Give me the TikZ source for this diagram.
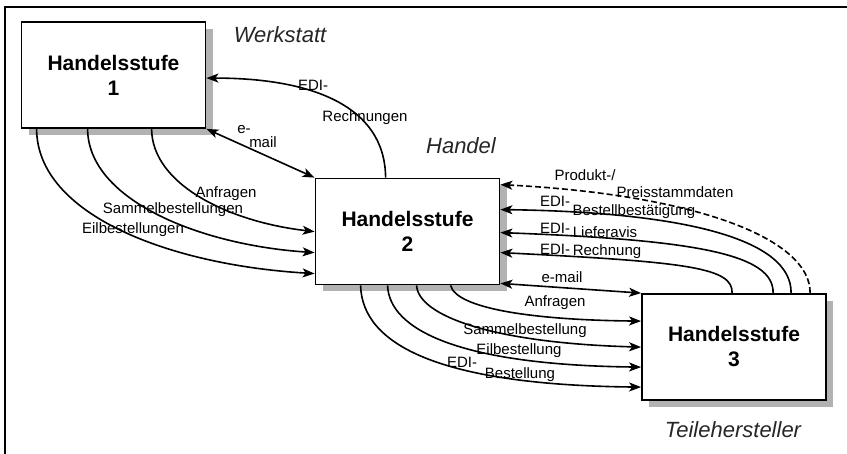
\documentclass[tikz,border=0pt]{standalone}
\usepackage{fontspec}
\setmainfont{Liberation Sans}
\usetikzlibrary{arrows.meta,shadows}
\begin{document}
\begin{tikzpicture}[x=1pt,y=-1pt,
  >={Stealth[length=12pt,width=9pt,inset=3pt]},
  box/.style={draw, line width=1.8pt, fill=white, align=center, inner sep=0pt,
    minimum width=184pt, minimum height=106pt,
    font=\fontsize{21}{25}\selectfont\bfseries,
    drop shadow={shadow xshift=7pt, shadow yshift=-7pt, fill=black!30, opacity=1}},
  conn/.style={line width=1.6pt, ->},
  lab/.style={inner sep=0pt, font=\fontsize{15}{16}\selectfont},
  place/.style={inner sep=0pt, font=\fontsize{22}{24}\selectfont\itshape, text=black!85}]
\useasboundingbox (0,0) rectangle (847,454);
\draw[line width=1.8pt] (5,454) -- (5,7) -- (847,7);

\node[box] (b1) at (113.5,75) {Handelsstufe\\1};
\node[box] (b2) at (407.5,231.5) {Handelsstufe\\2};
\node[box] (b3) at (734,347) {Handelsstufe\\3};

\node[place] (w) at (280,35) {Werkstatt};
\node[place] (h) at (461,146) {Handel};
\node[place] (t) at (733,430) {Teilehersteller};

% Box 1 <-> Box 2
\draw[conn] ([xshift=71pt]b2.north west) .. controls (385,105) and (310,78) .. ([yshift=-57pt]b1.north east);
\draw[conn,<->] (b1.south east) -- (b2.north west);
\draw[conn] ([xshift=131pt]b1.south west) .. controls (152,185) and (230,222) .. ([yshift=-54pt]b2.north west);
\draw[conn] ([xshift=67pt]b1.south west) .. controls (88,200) and (200,245) .. ([yshift=-75pt]b2.north west);
\draw[conn] ([xshift=16pt]b1.south west) .. controls (37,215) and (170,265) .. ([yshift=-96pt]b2.north west);

\node[lab] (l1) at (313,85) {EDI-};
\node[lab] (l2) at (365,118) {Rechnungen};
\node[lab] (l3) at (244,130) {e-};
\node[lab] (l4) at (263,142) {mail};
\node[lab] (l5) at (226,194) {Anfragen};
\node[lab] (l6) at (173,210) {Sammelbestellungen};
\node[lab] (l7) at (133,230) {Eilbestellungen};

% Box 3 -> Box 2
\draw[conn,dashed,dash pattern=on 6pt off 3pt] ([xshift=169pt]b3.north west) .. controls (811,240) and (700,195) .. ([yshift=-7pt]b2.north east);
\draw[conn] ([xshift=150pt]b3.north west) .. controls (792,238) and (680,212) .. ([yshift=-32pt]b2.north east);
\draw[conn] ([xshift=132pt]b3.north west) .. controls (774,255) and (700,240) .. ([yshift=-55pt]b2.north east);
\draw[conn] ([xshift=91pt]b3.north west) .. controls (733,268) and (690,262) .. ([yshift=-75pt]b2.north east);
\draw[conn,<->] ([yshift=2pt]b2.south east) -- (b3.north west);

\node[lab] (l8) at (585,175) {Produkt-/};
\node[lab] (l9) at (675,192) {Preisstammdaten};
\node[lab] (l10) at (555,201) {EDI-};
\node[lab] (l11) at (634,212) {Bestellbestätigung};
\node[lab] (l12) at (555,228) {EDI-};
\node[lab] (l13) at (605,232) {Lieferavis};
\node[lab] (l14) at (555,249) {EDI-};
\node[lab] (l15) at (607,252) {Rechnung};
\node[lab] (l16) at (562,277) {e-mail};

% Box 2 -> Box 3
\draw[conn] ([xshift=136pt]b2.south west) .. controls (456,308) and (530,320) .. ([yshift=-28pt]b3.north west);
\draw[conn] ([xshift=102pt]b2.south west) .. controls (418,315) and (490,343) .. ([yshift=-54pt]b3.north west);
\draw[conn] ([xshift=73pt]b2.south west) .. controls (389,330) and (460,365) .. ([yshift=-74pt]b3.north west);
\draw[conn] ([xshift=46pt]b2.south west) .. controls (362,345) and (440,385) .. ([yshift=-94pt]b3.north west);

\node[lab] (l17) at (555,303) {Anfragen};
\node[lab] (l18) at (525,331) {Sammelbestellung};
\node[lab] (l19) at (519,351) {Eilbestellung};
\node[lab] (l20) at (462,362) {EDI-};
\node[lab] (l21) at (520,375) {Bestellung};
\end{tikzpicture}
\end{document}
